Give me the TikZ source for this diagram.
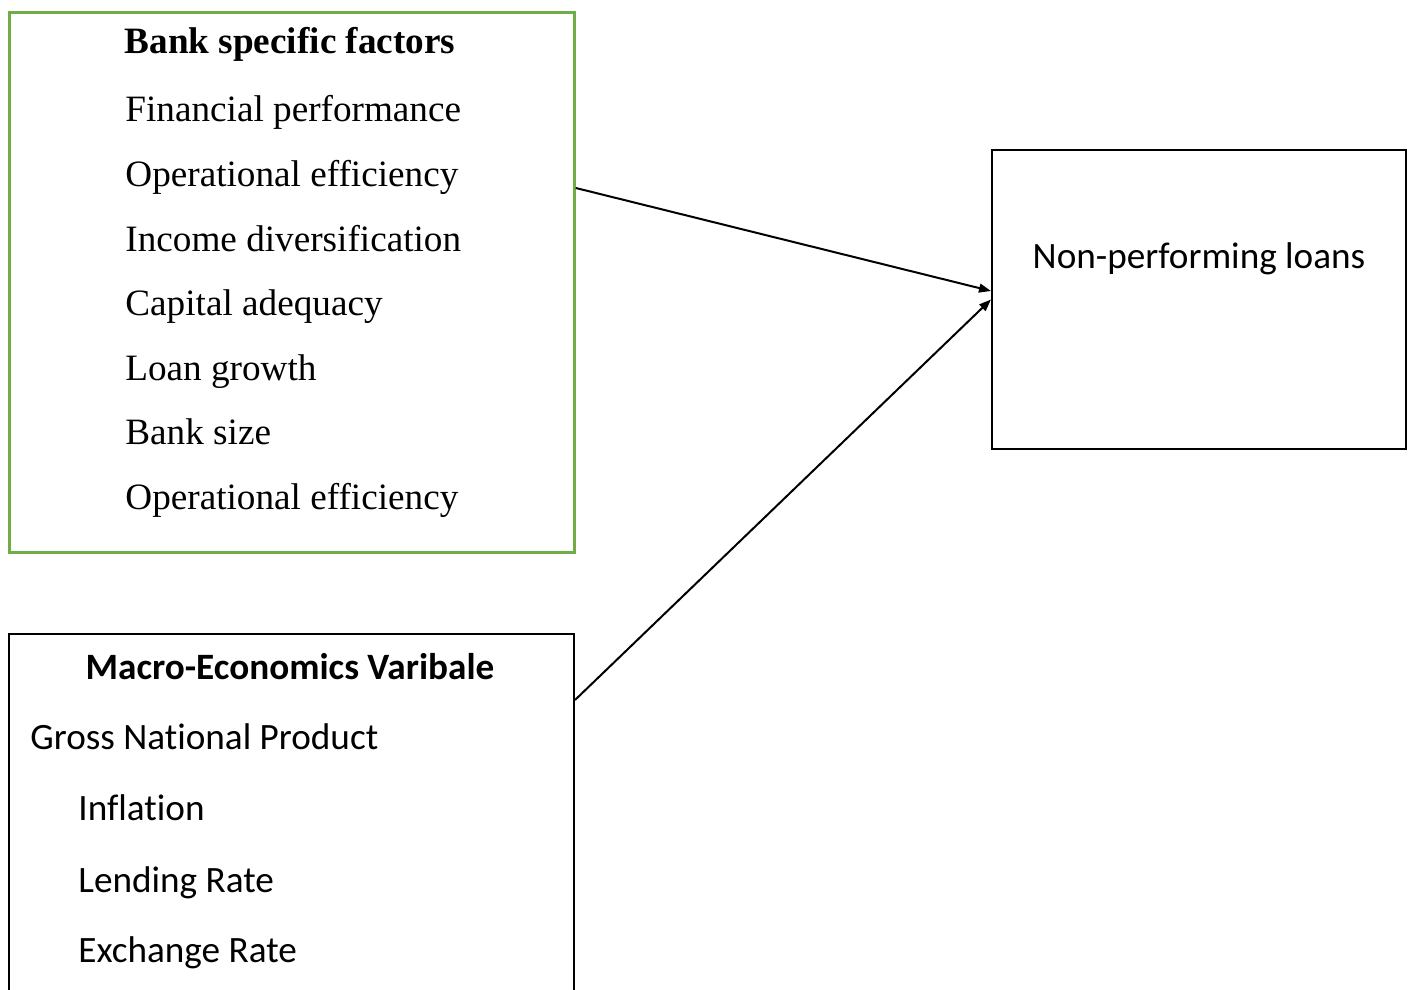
\documentclass[tikz,border=0pt]{standalone}
\usepackage{fontspec}
\setmainfont{Liberation Serif}
\newfontfamily\calibri[Ligatures=NoCommon]{Carlito}
\usetikzlibrary{arrows.meta,positioning,calc}
\definecolor{boxgreen}{HTML}{70AD47}
\tikzset{
 frame/.style={draw,line width=1pt,inner sep=0,anchor=north west},
 item/.style={anchor=base west,inner sep=0,font=\fontsize{18.6}{22}\selectfont},
 head/.style={anchor=base,inner sep=0,font=\fontsize{18.6}{22}\selectfont\bfseries},
}
\begin{document}
\begin{tikzpicture}[x=.5pt,y=-.5pt,>={Triangle[length=6pt,width=4.4pt]}]
\clip (0,0) rectangle (1409,990);
% boxes
\node[frame,draw=boxgreen,line width=1.4pt,minimum width=282.5pt,minimum height=270pt] (bank) at (8,11) {};
\node[frame,minimum width=207pt,minimum height=149.5pt] (npl) at (991,149) {};
\node[frame,minimum width=282.5pt,minimum height=190pt] (macro) at (8,633) {};
% bank specific factors
\node[head] (banktitle) at (290,54) {Bank specific factors};
\foreach \txt [count=\i] in {Financial performance,Operational efficiency,Income diversification,Capital adequacy,Loan growth,Bank size,Operational efficiency}
 \node[item] (bank\i) at (125,{57.5+64.5*\i}) {\txt};
% macro-economic variables
\node[head,font=\fontsize{18.6}{22}\selectfont\calibri\bfseries] (macrotitle) at (290,679) {Macro-Economics Varibale};
\node[item,font=\fontsize{18.6}{22}\selectfont\calibri] (macro1) at (30,749) {Gross National Product};
\foreach \txt/\y [count=\i from 2] in {Inflation/820,Lending Rate/892,Exchange Rate/962}
 \node[item,font=\fontsize{18.6}{22}\selectfont\calibri] (macro\i) at (78,\y) {\txt};
% outcome
\node[anchor=base,inner sep=0,font=\fontsize{18.6}{22}\selectfont\calibri] (npltext) at (1199,268) {Non-performing loans};
% links
\coordinate (bankout) at ([yshift=-88.5pt]bank.north east);
\coordinate (macroout) at ([yshift=-33.5pt]macro.north east);
\coordinate (nplin) at ([yshift=-71pt]npl.north west);
\draw[->,line width=1pt] (bankout) -- (nplin);
\draw[->,line width=1pt] (macroout) -- (npl.west);
\end{tikzpicture}
\end{document}
